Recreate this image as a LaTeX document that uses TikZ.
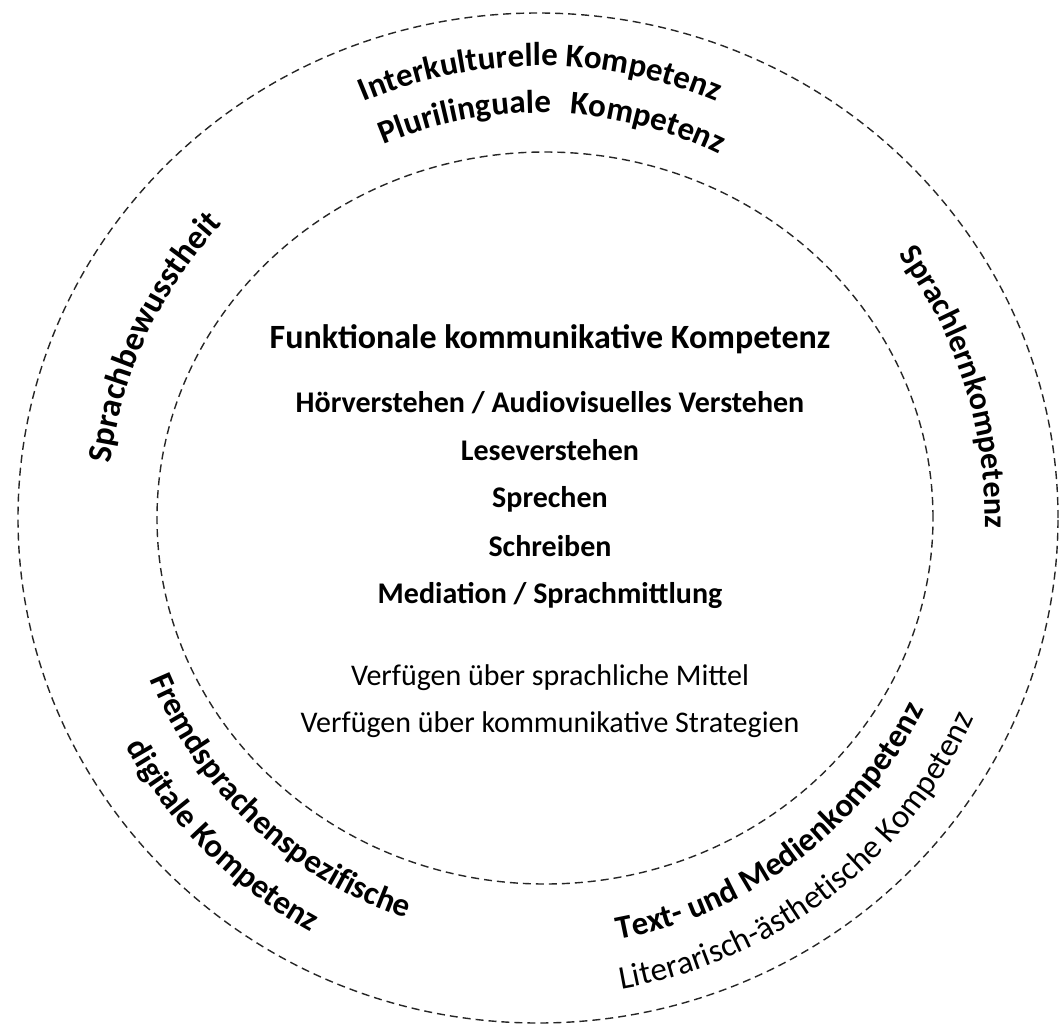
\documentclass[tikz,border=0pt]{standalone}
\usepackage{fontspec}
\setmainfont{Carlito}
\usetikzlibrary{decorations.text}
\newcommand\arcbf{\fontsize{33}{38}\selectfont\bfseries}
\newcommand\arcbfbig{\fontsize{34}{40}\selectfont\bfseries}
\newcommand\arcbfsmall{\fontsize{32}{38}\selectfont\bfseries}
\newcommand\arcrm{\fontsize{33}{38}\selectfont}
\tikzset{
  x=1pt, y=1pt,
  ring/.style={line width=1.4pt, black!85, dash pattern=on 8pt off 5pt},
  ctitle/.style={font=\fontsize{34}{40}\selectfont\bfseries, anchor=base, inner sep=0pt},
  citem/.style={font=\fontsize{30}{36}\selectfont\bfseries, anchor=base, inner sep=0pt},
  cplain/.style={font=\fontsize{30}{36}\selectfont, anchor=base, inner sep=0pt},
  cwtext/.style n args={3}{decorate, decoration={text along path, text align=center, text={#3}},
     insert path={(540,-518) ++(#1+60:#2) arc[start angle=#1+60, end angle=#1-60, radius=#2]}},
  ccwtext/.style n args={3}{decorate, decoration={text along path, text align=center, text={#3}},
     insert path={(540,-518) ++(#1-60:#2) arc[start angle=#1-60, end angle=#1+60, radius=#2]}},
}
\begin{document}
\begin{tikzpicture}
\useasboundingbox[fill=white] (0,0) rectangle (1060,-1028);
% rings
\draw[ring] (538,-518) ellipse[x radius=520, y radius=505];
\draw[ring] (545,-518) ellipse[x radius=388, y radius=366];
% centre texts
\node[ctitle] (title) at (550,-348) {Funktionale kommunikative Kompetenz};
\node[citem] (hv) at (550,-412) {Hörverstehen / Audiovisuelles Verstehen};
\node[citem] (lv) at (550,-460) {Leseverstehen};
\node[citem] (sp) at (550,-507) {Sprechen};
\node[citem] (sc) at (550,-556) {Schreiben};
\node[citem] (me) at (550,-603) {Mediation / Sprachmittlung};
\node[cplain] (vm) at (550,-685) {Verfügen über sprachliche Mittel};
\node[cplain] (vs) at (550,-732) {Verfügen über kommunikative Strategien};
% curved texts (clockwise, tops outward)
\path[cwtext={90}{452}{|\arcbf|Interkulturelle Kompetenz}];
\path[cwtext={100.6}{405}{|\arcbf|Plurilinguale}];
\path[cwtext={74.8}{405}{|\arcbf|Kompetenz}];
\path[cwtext={155}{433}{|\arcbfbig|Sprachbewusstheit}];
\path[cwtext={17.5}{445}{|\arcbfsmall|Sprachlernkompetenz}];
% curved texts (counter-clockwise, tops inward)
\path[ccwtext={227}{422}{|\arcbf|Fremdsprachenspezifische}];
\path[ccwtext={225}{473}{|\arcbf|digitale Kompetenz}];
\path[ccwtext={307}{429}{|\arcbf|Text- und Medienkompetenz}];
\path[ccwtext={307.5}{478}{|\arcrm|Literarisch-ästhetische Kompetenz}];
\end{tikzpicture}
\end{document}
